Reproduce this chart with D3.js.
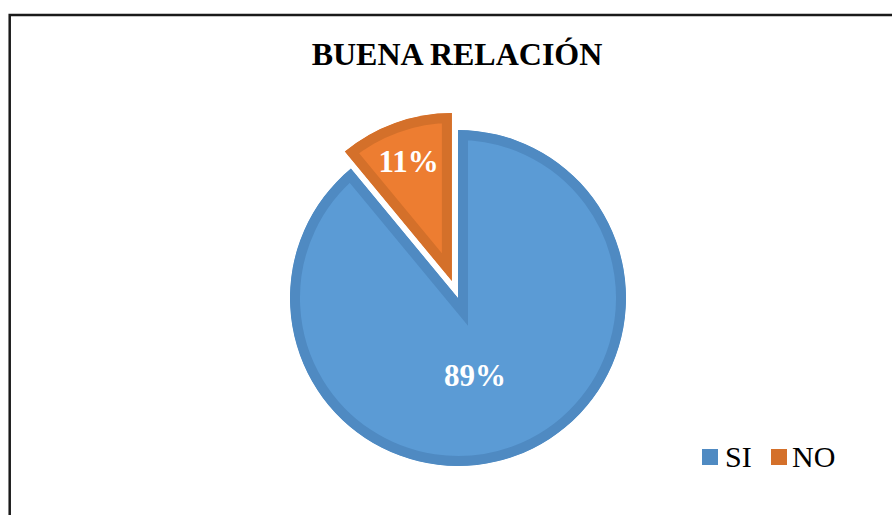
<!DOCTYPE html>
<html>
<head>
<meta charset="utf-8">
<script src="https://cdn.jsdelivr.net/npm/d3@7"></script>
<style>
  body { margin: 0; background: #fff; }
  svg { display: block; }
</style>
</head>
<body>
<div id="chart"></div>
<script>
var categorias = ["SI", "NO"];
var valores = [89, 11];
var etiquetas = ["89%", "11%"];
var colores = ["#5b9bd5", "#ed7d31"];
var bordes = ["#4f8ac2", "#d4702a"];

var width = 892,
    height = 515,
    radius = 168,
    cx = 458,
    cy = 298;

var svg = d3.select("#chart").append("svg")
    .attr("width", width)
    .attr("height", height);

// marco del grafico
svg.append("rect")
    .attr("x", 9.7)
    .attr("y", 15)
    .attr("width", 900)
    .attr("height", 520)
    .attr("fill", "none")
    .attr("stroke", "#1a1a1a")
    .attr("stroke-width", 2.5);

svg.append("text")
    .attr("x", 457)
    .attr("y", 65)
    .attr("text-anchor", "middle")
    .style("font-family", "'Liberation Serif', 'Times New Roman', serif")
    .style("font-weight", "bold")
    .style("font-size", "32px")
    .text("BUENA RELACIÓN");

var pie = d3.pie()
    .sort(null)
    .value(function(d) { return d; });

var arc = d3.arc()
    .outerRadius(radius)
    .innerRadius(0);

var arcos = pie(valores);
var explode = [0, 18];
var labelR = [0.49, 0.76];
var labelDx = [-11, 0];

var defs = svg.append("defs");

var g = svg.append("g")
    .attr("transform", "translate(" + cx + "," + cy + ")");

var slice = g.selectAll(".arc")
    .data(arcos)
  .enter().append("g")
    .attr("class", "arc")
    .attr("transform", function(d, i) {
      var a = (d.startAngle + d.endAngle) / 2;
      return "translate(" + (Math.sin(a) * explode[i]) + "," + (-Math.cos(a) * explode[i]) + ")";
    });

slice.each(function(d, i) {
  defs.append("clipPath")
      .attr("id", "clip" + i)
    .append("path")
      .attr("d", arc(d));
});

slice.append("path")
    .attr("d", arc)
    .attr("fill", function(d, i) { return colores[i]; })
    .attr("stroke", function(d, i) { return bordes[i]; })
    .attr("stroke-width", 20)
    .attr("clip-path", function(d, i) { return "url(#clip" + i + ")"; });

slice.append("text")
    .attr("transform", function(d, i) {
      var r = radius * labelR[i];
      var c = d3.arc().innerRadius(r).outerRadius(r).centroid(d);
      return "translate(" + (c[0] + labelDx[i]) + "," + c[1] + ")";
    })
    .attr("dy", ".35em")
    .attr("text-anchor", "middle")
    .attr("fill", "#fff")
    .style("font-family", "'Liberation Serif', 'Times New Roman', serif")
    .style("font-weight", "bold")
    .style("font-size", "31px")
    .text(function(d, i) { return etiquetas[i]; });

// leyenda
var legX = [702, 771];
var leg = svg.selectAll(".leg")
    .data(categorias)
  .enter().append("g")
    .attr("class", "leg")
    .attr("transform", function(d, i) { return "translate(" + legX[i] + ",449)"; });

leg.append("rect")
    .attr("width", 16)
    .attr("height", 16)
    .attr("fill", function(d, i) { return i == 0 ? "#4f8ac2" : "#d4702a"; });

leg.append("text")
    .attr("x", function(d, i) { return i == 0 ? 23 : 21; })
    .attr("y", 17.5)
    .style("font-family", "'Liberation Serif', 'Times New Roman', serif")
    .style("font-size", "30px")
    .text(function(d) { return d; });
</script>
</body>
</html>
